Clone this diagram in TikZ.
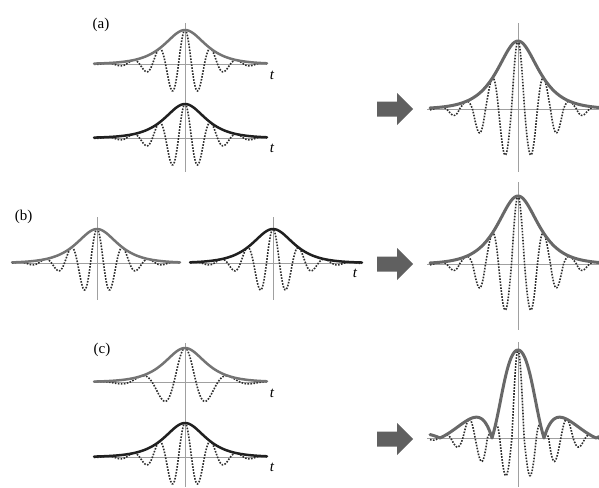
\documentclass[tikz,border=0pt]{standalone}
\usepackage{fontspec}
\setmainfont{Liberation Serif}
\definecolor{axisgray}{HTML}{A0A0A0}
\definecolor{envgray}{HTML}{747474}
\definecolor{envblack}{HTML}{202020}
\definecolor{resgray}{HTML}{686868}
\definecolor{carriercol}{HTML}{2E2E2E}
\definecolor{arrowgray}{HTML}{606060}
\newcommand\InPulse[6]{%
  \begin{scope}[shift={(#1,#2)},yscale=-1]
    \draw[axisline] (#5,0) -- (#6,0);
    \draw[carrier] plot[domain=#5:#6,samples=240] (\x,{34/cosh(\x/18)*cos((360/#4)*\x)});
    \draw[envline,draw=#3] plot[domain=#5:#6,samples=120] (\x,{34/cosh(\x/18)});
  \end{scope}}
\newcommand\BlockArrow[1]{%
  \fill[arrowgray] (377,#1-7.5) -- (397,#1-7.5) -- (397,#1-16) -- (413,#1) -- (397,#1+16) -- (397,#1+7.5) -- (377,#1+7.5) -- cycle;}
\begin{document}
\begin{tikzpicture}[x=1pt,y=-1pt,
  axisline/.style={draw=axisgray,line width=1pt},
  carrier/.style={draw=carriercol,line width=1.6pt,dash pattern=on 1.6pt off 1.4pt},
  envline/.style={line width=2.5pt,line cap=round,line join=round},
  resline/.style={draw=resgray,line width=3pt,line cap=round,line join=round},
  tlab/.style={font=\fontsize{15}{17}\selectfont\itshape,inner sep=0pt},
  plab/.style={font=\fontsize{15}{17}\selectfont,inner sep=0pt}]
\useasboundingbox (0,0) rectangle (599,487);
% vertical axes
\draw[axisline] (185,23) -- (185,172);
\draw[axisline] (97,217) -- (97,300);
\draw[axisline] (273,217) -- (273,300);
\draw[axisline] (185,343) -- (185,487);
\draw[axisline] (518,23) -- (518,172);
\draw[axisline] (518,182) -- (518,330);
\draw[axisline] (518,342) -- (518,487);
% panel (a) inputs
\InPulse{185}{64}{envgray}{26}{-91}{82}
\InPulse{185}{138}{envblack}{26}{-91}{82}
% panel (b) inputs
\InPulse{97}{263}{envgray}{26}{-85}{83}
\InPulse{273}{263}{envblack}{26}{-83}{89}
% panel (c) inputs
\InPulse{185}{382}{envgray}{44}{-91}{82}
\InPulse{185}{457}{envblack}{26}{-91}{82}
% results (a) and (b)
\foreach \cy in {109,264}{
  \begin{scope}[shift={(518,\cy)},yscale=-1]
    \draw[axisline] (-91,0) -- (81,0);
    \draw[carrier] plot[domain=-88:81,samples=300] (\x,{cos((360/26)*\x)*(cos((360/26)*\x)>0 ? 68/cosh(\x/18) : 50*exp(-\x*\x/2025))});
    \draw[resline] plot[domain=-88:81,samples=170] (\x,{68/cosh(\x/18)});
  \end{scope}}
% result (c)
\begin{scope}[shift={(518,438)},yscale=-1]
  \draw[axisline] (-91,0) -- (81,0);
  \draw[carrier] plot[domain=-88:81,samples=300] (\x,{cos((360/24.5)*\x)*(cos((360/24.5)*\x)>0 ? 88*abs(cos((180/52)*\x))/sqrt(1+(\x*\x/529)^2) : 40*exp(-\x*\x/2500))});
  \draw[resline] plot[domain=-88:81,samples=170] (\x,{88*abs(cos((180/52)*\x))/sqrt(1+(\x*\x/529)^2)});
\end{scope}
% arrows
\BlockArrow{109}
\BlockArrow{264}
\BlockArrow{439}
% labels
\node[plab] (la) at (101,25) {(a)};
\node[plab] (lb) at (23.5,217) {(b)};
\node[plab] (lc) at (102,350) {(c)};
\node[tlab] (ta1) at (272,75) {t};
\node[tlab] (ta2) at (272,148) {t};
\node[tlab] (tb) at (355,273) {t};
\node[tlab] (tc1) at (272,393) {t};
\node[tlab] (tc2) at (272,467) {t};
\end{tikzpicture}
\end{document}
